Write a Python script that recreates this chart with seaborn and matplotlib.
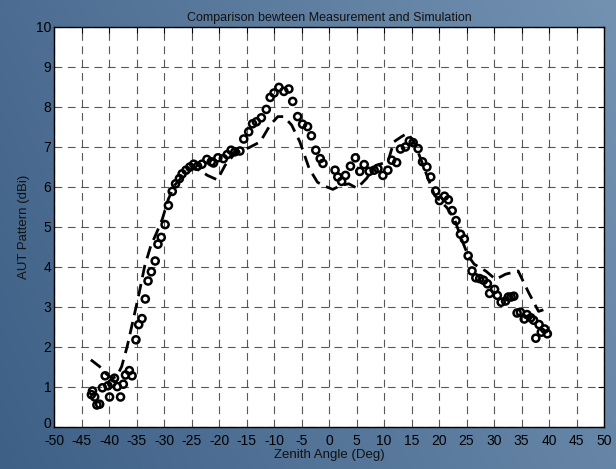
import numpy as np
import pandas as pd
import matplotlib
matplotlib.use("Agg")
import matplotlib.pyplot as plt
import matplotlib.transforms as mtransforms
import seaborn as sns

# Measurement (circles)
meas_angle = [-43.2, -43.0, -42.6, -42.2, -41.7, -41.2, -40.7, -40.2, -39.9, -39.5,
              -39.0, -38.5, -37.9, -37.4, -37.0, -36.3, -35.8, -35.1, -34.6, -34.0,
              -33.4, -32.9, -32.3, -31.6, -31.1, -30.5, -29.8, -29.2, -28.5, -27.9,
              -27.2, -26.7, -26.0, -25.3, -24.6, -23.9, -23.1, -22.2, -21.4, -21.0,
              -20.2, -19.2, -18.5, -17.8, -17.1, -16.2, -15.5, -14.6, -13.9, -13.2,
              -12.3, -11.4, -10.7, -10.0, -9.1, -8.2, -7.3, -6.6, -5.7, -4.8,
              -3.9, -3.2, -2.4, -1.6, -1.1, 1.1, 1.6, 2.3, 3.0, 3.9,
              4.8, 5.6, 6.4, 7.3, 8.2, 8.9, 9.8, 10.7, 11.4, 12.3,
              13.0, 13.9, 14.6, 15.3, 16.2, 17.0, 17.8, 18.5, 19.4, 20.1,
              21.0, 21.7, 22.4, 23.1, 23.9, 24.6, 25.3, 26.0, 26.7, 27.4,
              28.1, 28.8, 29.2, 30.1, 30.6, 31.3, 32.1, 32.6, 33.1, 33.6,
              34.2, 34.8, 35.5, 36.0, 36.7, 37.2, 37.6, 38.2, 38.6, 39.2, 39.7]
meas_gain = [0.81, 0.90, 0.75, 0.55, 0.57, 0.98, 1.28, 1.03, 0.75, 1.09,
             1.22, 1.01, 0.75, 1.07, 1.30, 1.41, 1.28, 2.18, 2.56, 2.71,
             3.20, 3.65, 3.88, 4.15, 4.57, 4.74, 5.06, 5.54, 5.89, 6.08,
             6.21, 6.33, 6.42, 6.50, 6.57, 6.52, 6.57, 6.69, 6.63, 6.60,
             6.73, 6.71, 6.81, 6.92, 6.88, 6.90, 7.20, 7.38, 7.58, 7.63,
             7.73, 7.94, 8.24, 8.35, 8.49, 8.39, 8.45, 8.14, 7.76, 7.57,
             7.51, 7.28, 6.92, 6.71, 6.59, 6.42, 6.25, 6.14, 6.29, 6.52,
             6.73, 6.39, 6.56, 6.39, 6.42, 6.46, 6.29, 6.42, 6.67, 6.61,
             6.95, 7.00, 7.15, 7.11, 6.96, 6.63, 6.50, 6.25, 5.90, 5.66,
             5.77, 5.68, 5.41, 5.16, 4.82, 4.70, 4.28, 3.90, 3.73, 3.71,
             3.67, 3.58, 3.34, 3.44, 3.29, 3.12, 3.15, 3.25, 3.25, 3.27,
             2.85, 2.87, 2.70, 2.81, 2.73, 2.67, 2.22, 2.56, 2.37, 2.45, 2.33]

# Simulation (dashed line)
sim_angle = [-43.3, -41.7, -40.6, -39.5, -38.6, -37.7, -36.7, -35.6, -34.5, -33.5,
             -32.4, -31.3, -30.3, -29.2, -28.1, -26.7, -24.9, -23.5, -22.1, -20.3,
             -18.9, -17.1, -14.6, -12.5, -10.7, -9.3, -8.2, -6.8, -5.3, -3.6,
             -2.1, -1.1, 0.7, 2.1, 3.6, 5.1, 6.8, 8.5, 10.7, 11.8,
             13.2, 14.2, 15.3, 16.4, 17.8, 19.2, 21.4, 22.8, 24.2, 25.3,
             26.4, 28.5, 30.3, 32.1, 34.4, 36.3, 38.1, 39.2]
sim_gain = [1.68, 1.51, 1.34, 1.22, 1.26, 1.51, 2.01, 2.68, 3.36, 4.03,
            4.53, 4.87, 5.20, 5.70, 6.04, 6.25, 6.46, 6.42, 6.29, 6.18,
            6.54, 6.84, 6.98, 7.13, 7.55, 7.76, 7.76, 7.55, 7.13, 6.46,
            6.12, 6.04, 5.94, 6.04, 6.08, 5.97, 6.21, 6.54, 6.63, 7.13,
            7.26, 7.34, 7.17, 6.80, 6.29, 5.79, 5.49, 5.20, 4.66, 4.28,
            4.07, 3.90, 3.69, 3.82, 3.90, 3.36, 2.89, 2.94]

x_ticks = list(range(-50, 51, 5))
y_ticks = list(range(0, 11, 1))

sns.set_style("white")
plt.rcParams['font.family'] = ['Liberation Sans', 'DejaVu Sans']

fig = plt.figure(figsize=(6.16, 4.69), dpi=100)

# gradient background
bg = fig.add_axes([0, 0, 1, 1], zorder=-10)
gx = np.linspace(0, 1, 256)
gy = np.linspace(0, 1, 256)
GX, GY = np.meshgrid(gx, gy)
t = 0.75 * GX + 0.25 * GY
c0 = np.array([0x3f, 0x60, 0x86]) / 255.0
c1 = np.array([0x73, 0x92, 0xb2]) / 255.0
img = c0[None, None, :] * (1 - t[..., None]) + c1[None, None, :] * t[..., None]
bg.imshow(img, aspect='auto', extent=[0, 1, 0, 1], origin='lower')
bg.set_axis_off()

ax = fig.add_axes([54 / 616, 1 - 427 / 469, 550 / 616, 400 / 469])
ax.set_facecolor('white')

sim_df = pd.DataFrame({'angle': sim_angle, 'gain': sim_gain})
meas_df = pd.DataFrame({'angle': meas_angle, 'gain': meas_gain})

sns.lineplot(data=sim_df, x='angle', y='gain', ax=ax, color='black', linewidth=2.0,
             sort=False, zorder=3)
ax.lines[-1].set_dashes((4.5, 2.5))
sns.scatterplot(data=meas_df, x='angle', y='gain', ax=ax, marker='o', s=26,
                facecolor='none', edgecolor='black', linewidth=1.8, zorder=4)

ax.set_xlim(-50, 50)
ax.set_ylim(0, 10)
ax.set_xticks(x_ticks)
ax.set_yticks(y_ticks)
ax.set_xticklabels([str(v) for v in x_ticks])
ax.set_yticklabels([str(v) for v in y_ticks])
ax.grid(True, color='#3a3a3a', linestyle=(0, (7, 5)), linewidth=0.8, alpha=0.85)
ax.tick_params(direction='in', length=4, width=0.8, labelsize=10, colors='black',
               top=True, right=True)
ax.tick_params(axis='x', pad=5)
ax.tick_params(axis='y', pad=2)
for s in ax.spines.values():
    s.set_color('black')
    s.set_linewidth(1.0)

# nudge the "0" y tick label up slightly so it clears the "-50" x label
lbl0 = ax.get_yticklabels()[0]
lbl0.set_transform(lbl0.get_transform() + mtransforms.ScaledTranslation(0, 3 / 72, fig.dpi_scale_trans))

ax.set_title('Comparison bewteen Measurement and Simulation', fontsize=9, color='#111111', pad=4)
ax.set_xlabel('Zenith Angle (Deg)', fontsize=9.5, color='#111111', labelpad=1)
ax.set_ylabel('AUT Pattern (dBi)', fontsize=9.5, color='#111111', labelpad=4)

fig.savefig('out.png', dpi=100)
